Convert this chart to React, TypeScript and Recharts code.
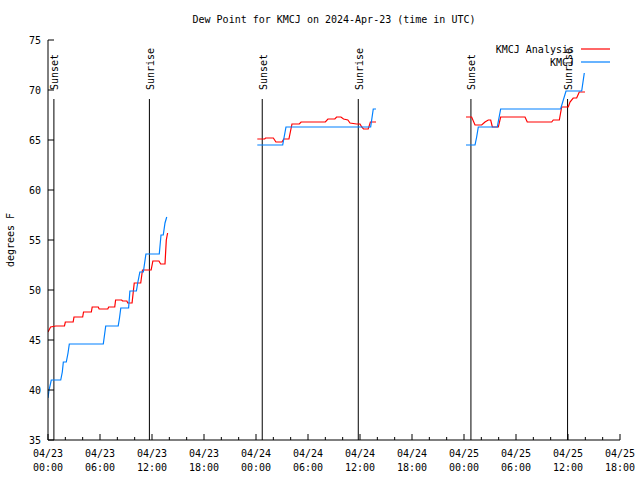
import React from 'react';
import { LineChart, Line, XAxis, YAxis, ReferenceLine, Legend } from 'recharts';

const FONT = '"DejaVu Sans Mono", "Liberation Mono", monospace';

// x axis: hours since 04/23 00:00 UTC
const xTickHours = [0, 2, 4, 6, 8, 10, 12, 14, 16, 18, 20, 22, 24, 26, 28, 30, 32, 34, 36, 38, 40, 42, 44, 46, 48, 50, 52, 54, 56, 58, 60, 62, 64, 66];
const majorHours = [0, 6, 12, 18, 24, 30, 36, 42, 48, 54, 60, 66];
const dateLabels = ['04/23', '04/23', '04/23', '04/23', '04/24', '04/24', '04/24', '04/24', '04/25', '04/25', '04/25', '04/25'];
const timeLabels = ['00:00', '06:00', '12:00', '18:00', '00:00', '06:00', '12:00', '18:00', '00:00', '06:00', '12:00', '18:00'];
const yTicks = [35, 40, 45, 50, 55, 60, 65, 70, 75];

// KMCJ Analysis (red), [hour, degF]
const analysisDay1: [number, number][] = [
  [0.0, 45.8], [0.3, 46.3], [0.9, 46.4], [1.9, 46.4], [2.0, 46.8], [2.9, 46.8], [3.0, 47.3], [4.0, 47.3],
  [4.1, 47.8], [5.0, 47.8], [5.1, 48.3], [5.8, 48.3], [5.9, 48.1], [6.9, 48.1], [7.0, 48.3], [7.7, 48.3],
  [7.8, 49.0], [8.5, 49.0], [8.6, 48.9], [9.1, 48.9], [9.2, 48.7], [9.7, 48.7], [9.95, 50.7], [10.7, 50.7],
  [10.9, 52.0], [11.9, 52.0], [12.1, 52.9], [12.8, 52.9], [13.0, 52.6], [13.5, 52.6], [13.65, 55.0], [13.8, 55.7],
];
const analysisDay2: [number, number][] = [
  [24.15, 65.1], [25.0, 65.1], [25.1, 65.2], [26.0, 65.2], [26.3, 64.8], [27.0, 64.8], [27.2, 65.1], [27.8, 65.1],
  [28.15, 66.6], [29.0, 66.6], [29.2, 66.8], [32.0, 66.8], [32.3, 67.1], [33.1, 67.1], [33.3, 67.3], [33.8, 67.3],
  [34.1, 67.1], [34.6, 67.0], [34.85, 66.7], [35.6, 66.6], [36.0, 66.6], [36.2, 66.3], [36.4, 66.1], [36.95, 66.1],
  [37.2, 66.8], [37.85, 66.8],
];
const analysisDay3: [number, number][] = [
  [48.23, 67.3], [48.88, 67.3], [49.27, 66.5], [50.04, 66.5], [50.42, 66.8], [50.8, 67.0], [51.08, 67.0], [51.27, 66.3],
  [51.96, 66.3], [52.23, 67.3], [55.04, 67.3], [55.3, 66.8], [58.12, 66.8], [58.3, 67.0], [59.0, 67.0], [59.27, 68.3],
  [60.03, 68.3], [60.23, 68.8], [60.6, 69.2], [61.0, 69.2], [61.3, 69.8], [61.96, 69.8],
];

// KMCJ observations (blue), [hour, degF]
const kmcjDay1: [number, number][] = [
  [0.0, 39.2], [0.12, 40.0], [0.38, 41.0], [1.47, 41.0], [1.65, 41.8], [1.77, 42.8], [2.11, 42.8], [2.31, 43.7],
  [2.46, 44.6], [6.38, 44.6], [6.66, 46.4], [8.1, 46.4], [8.25, 47.2], [8.4, 48.2], [9.3, 48.2], [9.45, 49.9],
  [10.2, 49.9], [10.35, 50.7], [10.6, 51.8], [11.0, 51.8], [11.3, 53.6], [12.84, 53.6], [13.04, 55.5], [13.3, 55.5],
  [13.5, 56.7], [13.7, 57.3],
];
const kmcjDay2: [number, number][] = [
  [24.15, 64.5], [27.08, 64.5], [27.46, 66.3], [37.23, 66.3], [37.53, 68.1], [37.85, 68.1],
];
const kmcjDay3: [number, number][] = [
  [48.23, 64.5], [49.27, 64.5], [49.46, 65.3], [49.65, 66.3], [51.84, 66.3], [52.23, 68.1], [59.15, 68.1],
  [59.77, 69.9], [61.58, 69.9], [61.88, 71.7],
];

const sunHours = [0.68, 11.7, 24.72, 35.8, 48.8, 59.95];
const sunNames = ['Sunset', 'Sunrise', 'Sunset', 'Sunrise', 'Sunset', 'Sunrise'];
const sunLineTop = 69.1;

const joinDays = (days: [number, number][][]) => {
  const out: { h: number; v: number | null }[] = [];
  days.forEach((d, i) => {
    d.forEach(([h, v]) => out.push({ h, v }));
    if (i < days.length - 1) out.push({ h: d[d.length - 1][0] + 0.01, v: null });
  });
  return out;
};

const analysisData = joinDays([analysisDay1, analysisDay2, analysisDay3]);
const kmcjData = joinDays([kmcjDay1, kmcjDay2, kmcjDay3]);

const BottomTick = (props: any) => {
  const { x, y, payload } = props;
  const idx = majorHours.indexOf(payload.value);
  const major = idx >= 0;
  return (
    <g>
      <line x1={x} x2={x} y1={y} y2={y - (major ? 6 : 3)} stroke="#000" />
      {major && (
        <text x={x} y={y + 17} textAnchor="middle" fontFamily={FONT} fontSize={10} fill="#000">
          {dateLabels[idx]}
        </text>
      )}
      {major && (
        <text x={x} y={y + 31} textAnchor="middle" fontFamily={FONT} fontSize={10} fill="#000">
          {timeLabels[idx]}
        </text>
      )}
    </g>
  );
};

const TopTick = (props: any) => {
  const { x, y, payload } = props;
  const major = majorHours.indexOf(payload.value) >= 0;
  return <line x1={x} x2={x} y1={y} y2={y + (major ? 6 : 3)} stroke="#000" />;
};

const LeftTick = (props: any) => {
  const { x, y, payload } = props;
  return (
    <g>
      <line x1={x} x2={x + 6} y1={y} y2={y} stroke="#000" />
      <text x={x - 7} y={y + 4} textAnchor="end" fontFamily={FONT} fontSize={10} fill="#000">
        {payload.value}
      </text>
    </g>
  );
};

const RightTick = (props: any) => {
  const { x, y } = props;
  return <line x1={x} x2={x - 6} y1={y} y2={y} stroke="#000" />;
};

const SunLabel = (props: any) => {
  const { viewBox, text } = props;
  if (!viewBox) return null;
  const x = viewBox.x + 4.5;
  const y = viewBox.y - 9;
  return (
    <text x={x} y={y} transform={`rotate(-90 ${x} ${y})`} textAnchor="start" fontFamily={FONT} fontSize={10} fill="#000">
      {text}
    </text>
  );
};

const renderLegend = () => (
  <svg width={130} height={32} style={{ display: 'block' }}>
    <text x={84} y={10.5} textAnchor="end" fontFamily={FONT} fontSize={10} fill="#000">KMCJ Analysis</text>
    <line x1={91} x2={120} y1={7} y2={7} stroke="#ff0000" strokeWidth={1.2} />
    <text x={84} y={24} textAnchor="end" fontFamily={FONT} fontSize={10} fill="#000">KMCJ</text>
    <line x1={91} x2={120} y1={20} y2={20} stroke="#0080ff" strokeWidth={1.2} />
  </svg>
);

export default function App() {
  return (
    <div style={{ position: 'absolute', left: 0, top: 0, width: 640, height: 480, background: '#fff' }}>
      <LineChart width={640} height={480} margin={{ top: 40, right: 20, bottom: 0, left: 8 }}>
        <XAxis xAxisId="b" dataKey="h" type="number" domain={[0, 66]} ticks={xTickHours} interval={0}
          height={40} tickSize={0} tickMargin={0} tickLine={false} axisLine={{ stroke: '#000' }} tick={<BottomTick />} allowDataOverflow />
        <XAxis xAxisId="t" dataKey="h" type="number" orientation="top" domain={[0, 66]} ticks={xTickHours} interval={0}
          height={0} tickSize={0} tickMargin={0} tickLine={false} axisLine={{ stroke: '#000' }} tick={<TopTick />} allowDataOverflow />
        <YAxis yAxisId="l" type="number" domain={[35, 75]} ticks={yTicks} interval={0}
          width={40} tickSize={0} tickMargin={0} tickLine={false} axisLine={{ stroke: '#000' }} tick={<LeftTick />} allowDataOverflow />
        <YAxis yAxisId="r" type="number" orientation="right" domain={[35, 75]} ticks={yTicks} interval={0}
          width={0} tickSize={0} tickMargin={0} tickLine={false} axisLine={{ stroke: '#000' }} tick={<RightTick />} allowDataOverflow />
        <Legend layout="vertical" align="center" verticalAlign="middle" content={renderLegend}
          wrapperStyle={{ top: 42, left: 490, width: 130, height: 32 }} />
        {sunHours.map((h, i) => (
          <ReferenceLine key={`sun-${i}`} xAxisId="b" yAxisId="l"
            segment={[{ x: h, y: 35 }, { x: h, y: sunLineTop }]}
            stroke="#000" strokeWidth={1}
            label={<SunLabel text={sunNames[i]} />} />
        ))}
        <Line xAxisId="b" yAxisId="l" data={analysisData} dataKey="v" name="KMCJ Analysis" type="linear"
          stroke="#ff0000" strokeWidth={1.2} dot={false} isAnimationActive={false} connectNulls={false} />
        <Line xAxisId="b" yAxisId="l" data={kmcjData} dataKey="v" name="KMCJ" type="linear"
          stroke="#0080ff" strokeWidth={1.2} dot={false} isAnimationActive={false} connectNulls={false} />
        <text x={334} y={23} textAnchor="middle" fontFamily={FONT} fontSize={10} fill="#000">
          Dew Point for KMCJ on 2024-Apr-23 (time in UTC)
        </text>
        <text x={14} y={240} transform="rotate(-90 14 240)" textAnchor="middle" fontFamily={FONT} fontSize={10} fill="#000">
          degrees F
        </text>
      </LineChart>
    </div>
  );
}
